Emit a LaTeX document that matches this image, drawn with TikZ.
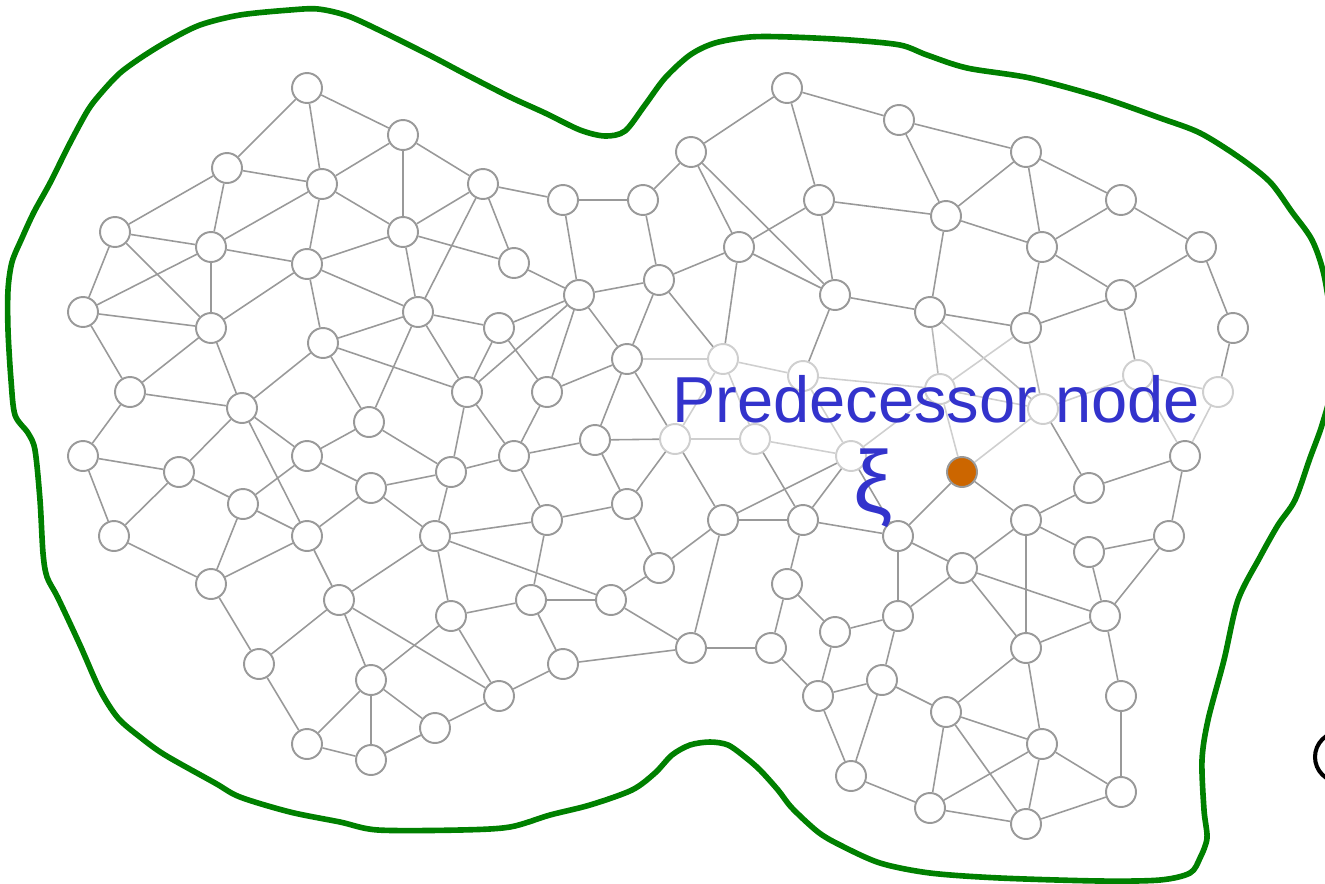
\documentclass[tikz,border=0pt]{standalone}
\usepackage{fontspec}
\usepackage{tikz}
\usetikzlibrary{calc}
\newfontfamily\labelfont{Liberation Sans}
\definecolor{edgegray}{HTML}{999999}
\definecolor{midgray}{HTML}{B8B8B8}
\definecolor{fadegray}{HTML}{CFCFCF}
\definecolor{predorange}{HTML}{CC6600}
\definecolor{predblue}{HTML}{3333CC}
\definecolor{meshgreen}{HTML}{008000}
\tikzset{
    meshnode/.style={circle, draw=edgegray, fill=white, line width=1.1pt, minimum size=0.6cm, inner sep=0pt},
    meshfaded/.style={meshnode, draw=fadegray},
    meshpred/.style={meshnode, fill=predorange},
    meshedge/.style={draw=edgegray, line width=0.9pt},
    meshedgemid/.style={draw=midgray, line width=0.9pt},
    meshedgefaded/.style={draw=fadegray, line width=0.9pt},
    meshborder/.style={draw=meshgreen, line width=3.2pt, line join=round},
    meshlabel/.style={text=predblue, font=\labelfont\fontsize{37}{40}\selectfont, inner sep=0pt}
}

\begin{document}
\begin{tikzpicture}[x=0.02cm, y=-0.02cm]
    \useasboundingbox (0,0) rectangle (1325,883);

    % outline of the region
    \draw[meshborder] plot[smooth cycle] coordinates {
        (8,290) (12,262) (22,238) (34,212) (50,183) (70,143) (88,110) (102,92) (120,73)
        (142,57) (168,41) (200,25) (240,15) (290,10) (318,9) (348,16) (385,33) (433,57)
        (467,75) (510,97) (545,113) (580,130) (605,136) (625,131) (645,105) (665,78)
        (690,55) (715,43) (750,37) (790,37) (850,40) (900,45) (927,55) (967,68) (1030,78)
        (1100,97) (1160,118) (1200,133) (1240,158) (1270,182) (1292,212) (1312,240)
        (1324,275) (1332,330) (1332,385) (1322,425) (1310,458) (1295,500) (1278,525)
        (1260,557) (1238,600) (1224,660) (1208,720) (1202,760) (1204,810) (1207,838)
        (1200,858) (1190,873) (1160,880) (1100,881) (1000,878) (930,873) (880,863)
        (840,845) (818,832) (792,808) (778,790) (760,770) (745,757) (728,745) (710,742)
        (690,745) (672,755) (655,773) (632,790) (590,805) (550,815) (510,827) (460,830)
        (378,830) (340,822) (290,812) (240,797) (215,783) (165,755) (140,737) (118,718)
        (100,690) (80,645) (58,598) (47,577) (43,553) (40,500) (35,450) (28,433) (15,415)
        (11,380) (8,330)};

    % vertices
    \foreach \n/\x/\y in {a1/307/88, a2/403/135, a3/227/168, a4/322/184, a5/115/232, a6/211/247,
        a7/307/264, a8/403/232, a9/83/312, a10/211/328, a11/323/343, a12/418/312, a13/130/392,
        a14/242/408, a15/369/422,
        b1/483/184, b2/563/200, b3/643/200, b4/691/152, b5/787/88, b6/819/200, b7/739/247,
        c1/899/120, c2/1026/152, c4/946/216, c5/1042/247, c6/1121/200, c7/1201/247, c8/835/295,
        c9/930/312, c10/1026/328, c11/1121/295, c12/1233/328,
        d1/514/263, d2/659/280, d3/579/295, d4/499/328, d5/627/359, d6/467/392, d7/547/392, d8/595/440,
        e1/83/456, e2/307/456, e3/179/472, e4/451/472, e5/371/488, e6/243/504, e7/627/504,
        e8/547/520, e9/723/520, e10/803/520, e11/114/536, e12/307/536, e13/435/536, k1/514/456,
        g1/1185/456, g2/1089/488, g3/1026/520, g4/898/536, g5/1169/536, g6/1089/552, g7/962/568,
        g8/898/616, g9/1105/616, g10/1026/648,
        h1/659/568, h2/211/584, h3/787/584, h4/339/600, h5/531/600, h6/611/600, h7/451/616,
        h8/835/632, h9/691/648, h10/771/648,
        i1/259/664, i2/563/664, i3/371/680, i4/882/680, i5/499/696, i6/818/696, i7/1121/696,
        i8/946/712, i9/435/728,
        j1/307/744, j2/1042/744, j3/371/760, j4/851/776, j5/1121/792, j6/930/808, j7/1026/824}
        \node[meshnode] (\n) at (\x,\y) {};
    \foreach \n/\x/\y in {f1/723/359, f2/803/376, f3/1138/375, f4/1218/392, f5/940/389,
        f6/1043/409, f7/675/439, f8/755/439, f9/851/456}
        \node[meshfaded] (\n) at (\x,\y) {};
    \node[meshpred] (pred) at (962,472) {};

    % edges
    \foreach \a/\b in {a1/a2,a1/a3,a1/a4,a2/a4,a2/a8,a2/b1,a3/a4,a3/a5,a3/a6,a4/a6,a4/a7,a4/a8,
        a5/a6,a5/a9,a5/a10,a6/a9,a6/a10,a6/a7,a7/a8,a7/a11,a7/a12,a8/a12,a8/d1,a8/b1,a9/a10,
        a9/a13,a10/a13,a10/a14,a10/a7,a11/a12,a11/a14,a11/a15,a11/d6,a12/a15,a12/d4,a12/b1,
        a12/d6,a13/a14,a13/e1,a14/e2,a14/e12,a14/e3,a15/e4,a15/e2,
        b1/b2,b1/d1,b2/b3,b2/d3,b3/b4,b3/d2,b4/b5,b4/b7,b4/c8,b5/b6,b5/c1,b6/b7,b6/c8,b6/c4,
        b7/c8,b7/d2,b7/f1,
        d1/d3,d3/d2,d3/d4,d3/d5,d3/d6,d3/d7,d2/d5,d2/f1,d4/d6,d4/d7,d6/e4,d6/k1,d7/d5,d7/k1,
        d5/d8,d5/f7,d8/e7,d8/k1,d8/f7,
        k1/e4,k1/e8,e4/e5,e4/e13,e13/e8,e13/h6,e13/h7,e13/h4,e13/e5,e8/h5,e7/e8,e7/h1,e7/f7,
        e9/f7,e9/e10,e9/h1,e9/h9,e9/f9,e10/f8,e10/f9,e10/g4,e10/h3,
        h5/h6,h5/h7,h5/i2,h6/h1,h6/h9,h7/i3,h7/i5,h4/i5,i5/i2,i5/i9,i3/i9,i9/j3,i2/h9,h9/h10,
        h3/h10,h3/h8,h10/i6,h8/i6,i6/j4,i6/i4,
        c1/c2,c1/c4,c2/c4,c2/c5,c2/c6,c4/c5,c4/c9,c5/c6,c5/c10,c5/c11,c6/c7,c7/c11,c7/c12,
        c8/c9,c8/f2,c9/c10,c10/c11,c11/f3,c12/f4,
        pred/g4,pred/g3,g2/g3,g2/g1,g2/f6,g1/g5,g4/g7,g4/g8,g4/f9,g3/g7,g3/g10,g3/g6,g6/g5,
        g6/g9,g5/g9,g7/g8,g7/g10,g7/g9,g8/h8,g8/i4,g9/g10,g9/i7,i4/i8,i4/j4,g10/i8,g10/j2,
        i8/j2,i8/j6,i8/j7,j2/j6,j2/j7,j2/j5,i7/j5,j4/j6,j6/j7,j7/j5,
        e1/e3,e1/e11,e3/e11,e3/e6,e6/e2,e6/e12,e6/h2,e2/e5,e5/e12,e11/h2,e12/h2,e12/h4,
        h2/i1,h4/i1,h4/i3,i3/j1,i3/j3,i1/j1,j1/j3,j3/i9}
        \draw[meshedge] (\a) -- (\b);
    \foreach \a/\b in {c9/f5,c9/f6,c10/f6}
        \draw[meshedgemid] (\a) -- (\b);
    \foreach \a/\b in {f1/f2,f1/f7,f1/f8,f2/f5,f2/f9,f7/f8,f8/f9,f9/f5,f5/f6,f3/f4,f3/f6,
        f5/pred,f6/pred,g1/f3,g1/f4,c10/f5,d5/f1}
        \draw[meshedgefaded] (\a) -- (\b);

    % labels
    \node[meshlabel, anchor=base west] (predlabel) at (672,422) {Predecessor node};
    \node[meshlabel, font=\labelfont\fontsize{50}{54}\selectfont] (predsym) at (873,488) {ξ};

    % next panel, cut off at the edge
    \node[circle, draw=black, line width=2.3pt, minimum size=1cm] (nextpanel) at (1340,757) {};
\end{tikzpicture}
\end{document}
